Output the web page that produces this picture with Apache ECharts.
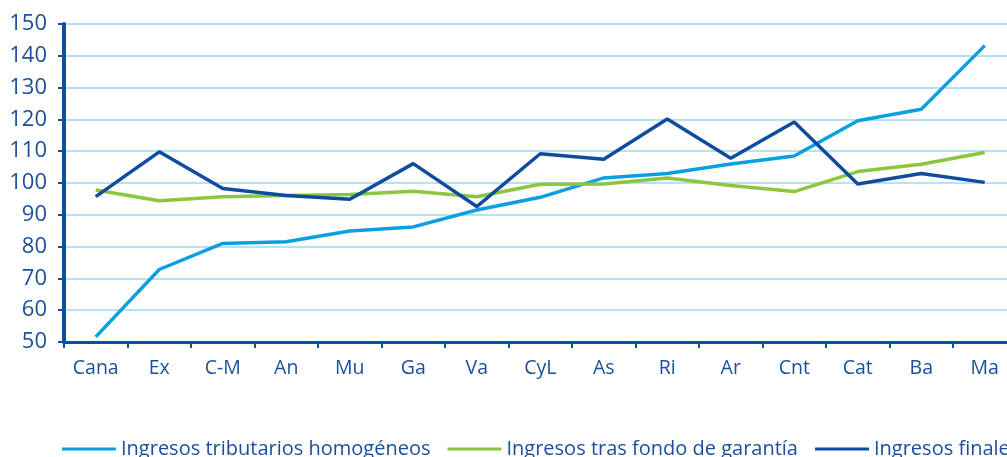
<!DOCTYPE html>
<html>
<head>
<meta charset="utf-8">
<script src="https://cdn.jsdelivr.net/npm/echarts@6/dist/echarts.min.js"></script>
<style>
  html, body { margin: 0; padding: 0; background: #ffffff; overflow: hidden; }
  /* the chart is wider than the page; its right part falls outside the view */
  #view { width: 1007px; height: 457px; overflow: hidden; }
  #chart { width: 1100px; height: 457px; }
</style>
</head>
<body>
<div id="view"><div id="chart"></div></div>
<script>
// Regions (abbreviated) along the horizontal axis
const categories = ['Cana', 'Ex', 'C-M', 'An', 'Mu', 'Ga', 'Va', 'CyL', 'As', 'Ri', 'Ar', 'Cnt', 'Cat', 'Ba', 'Ma'];

// Index values per region
const tributariosHomogeneos = [51.6, 72.8, 81.0, 81.5, 84.9, 86.2, 91.5, 95.5, 101.6, 103.0, 106.0, 108.5, 119.6, 123.2, 143.2];
const trasFondoGarantia     = [97.8, 94.4, 95.7, 96.1, 96.4, 97.4, 95.7, 99.6, 99.7, 101.6, 99.2, 97.3, 103.6, 105.9, 109.6];
const ingresosFinales       = [95.7, 109.8, 98.3, 96.1, 94.9, 106.1, 92.6, 109.2, 107.5, 120.1, 107.8, 119.2, 99.7, 103.0, 100.2];

const seriesNames = ['Ingresos tributarios homogéneos', 'Ingresos tras fondo de garantía', 'Ingresos finales'];
const yTicks = { min: 50, max: 150, step: 10 };

const textColor = '#1b4f9c';
const axisColor = '#0e4f9f';
const colors = ['#0aa0e0', '#8cc63f', '#0e4d9e'];
const fontFamily = '"Open Sans", "DejaVu Sans", sans-serif';

const chart = echarts.init(document.getElementById('chart'), null, { renderer: 'canvas' });

const values = [tributariosHomogeneos, trasFondoGarantia, ingresosFinales];

chart.setOption({
  animation: false,
  backgroundColor: '#ffffff',
  color: colors,
  grid: { left: 64, top: 24, right: 83.5, bottom: 115, containLabel: false },
  legend: {
    top: 434,
    left: 57,
    itemWidth: 54,
    itemHeight: 3,
    itemGap: 17,
    icon: 'rect',
    textStyle: { color: textColor, fontSize: 20, fontFamily: fontFamily },
    data: seriesNames
  },
  xAxis: {
    type: 'category',
    data: categories,
    boundaryGap: true,
    axisLine: { lineStyle: { color: axisColor, width: 3 } },
    axisTick: { show: true, alignWithLabel: false, length: 6, lineStyle: { color: axisColor, width: 2 } },
    axisLabel: { color: textColor, fontSize: 19.5, fontFamily: fontFamily, margin: 16, interval: 0 },
    splitLine: { show: false }
  },
  yAxis: {
    type: 'value',
    min: yTicks.min,
    max: yTicks.max,
    interval: yTicks.step,
    axisLine: { show: true, lineStyle: { color: axisColor, width: 4 } },
    axisTick: { show: true, length: 6, lineStyle: { color: axisColor, width: 2 } },
    axisLabel: { color: textColor, fontSize: 22, fontFamily: fontFamily, margin: 17 },
    splitLine: { show: true, lineStyle: { color: '#b5e3f6', width: 2 } }
  },
  series: seriesNames.map((name, i) => ({
    name: name,
    type: 'line',
    data: values[i],
    showSymbol: false,
    symbol: 'none',
    lineStyle: { width: 3.5, color: colors[i] },
    itemStyle: { color: colors[i] },
    z: 3 + i
  }))
});
</script>
</body>
</html>
